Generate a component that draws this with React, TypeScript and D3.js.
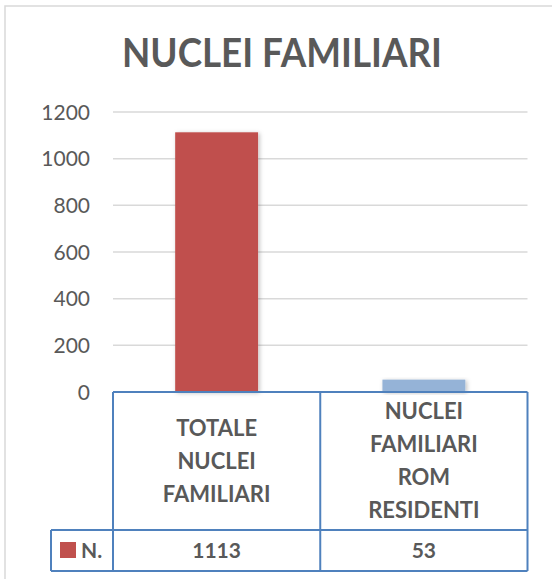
import * as d3 from 'd3'
import { useRef, useEffect } from 'react'

const categories = [
  ['TOTALE', 'NUCLEI', 'FAMILIARI'],
  ['NUCLEI', 'FAMILIARI', 'ROM', 'RESIDENTI'],
]
const values = [1113, 53]
const valueLabels = ['1113', '53']
const barColors = ['#C0504D', '#95B3D7']
const yTicks = [0, 200, 400, 600, 800, 1000, 1200]
const seriesName = 'N.'
const title = 'NUCLEI FAMILIARI'

export default function App() {
  const svgRef = useRef<SVGSVGElement>(null)

  useEffect(() => {
    const svg = d3.select(svgRef.current)
    svg.selectAll('*').remove()
    const font = 'Lato, "Open Sans", sans-serif'
    const textColor = '#595959'
    const tableColor = '#4F81BD'

    // outer frame
    svg
      .append('rect')
      .attr('x', 5)
      .attr('y', 6)
      .attr('width', 600)
      .attr('height', 600)
      .attr('fill', '#fff')
      .attr('stroke', '#d9d9d9')
      .attr('stroke-width', 1.5)

    const defs = svg.append('defs')
    const f = defs
      .append('filter')
      .attr('id', 'shadow')
      .attr('x', '-20%')
      .attr('y', '-20%')
      .attr('width', '140%')
      .attr('height', '140%')
    f.append('feDropShadow')
      .attr('dx', 1.5)
      .attr('dy', 1)
      .attr('stdDeviation', 2)
      .attr('flood-color', '#000')
      .attr('flood-opacity', 0.25)

    svg
      .append('text')
      .attr('x', 282)
      .attr('y', 67)
      .attr('text-anchor', 'middle')
      .attr('font-family', font)
      .attr('font-weight', 'bold')
      .attr('font-size', 41)
      .attr('textLength', 320)
      .attr('lengthAdjust', 'spacingAndGlyphs')
      .attr('fill', textColor)
      .text(title)

    const plotLeft = 113
    const plotRight = 527.5
    const y = d3.scaleLinear().domain([0, 1200]).range([392, 112])
    const x = d3
      .scaleBand<number>()
      .domain(d3.range(values.length))
      .range([plotLeft, plotRight])
      .paddingInner(0)
      .paddingOuter(0)

    // gridlines
    svg
      .append('g')
      .selectAll('line')
      .data(yTicks.filter((t) => t > 0))
      .join('line')
      .attr('x1', plotLeft)
      .attr('x2', plotRight)
      .attr('y1', (d) => y(d))
      .attr('y2', (d) => y(d))
      .attr('stroke', '#d9d9d9')
      .attr('stroke-width', 1.5)

    // y tick labels
    svg
      .append('g')
      .selectAll('text')
      .data(yTicks)
      .join('text')
      .attr('x', 90)
      .attr('y', (d) => y(d))
      .attr('dy', '0.36em')
      .attr('text-anchor', 'end')
      .attr('font-family', font)
      .attr('font-size', 21)
      .attr('fill', textColor)
      .text((d) => d)

    // bars
    const bw = x.bandwidth() * 0.4
    svg
      .append('g')
      .selectAll('rect')
      .data(values)
      .join('rect')
      .attr('x', (_, i) => x(i)! + (x.bandwidth() - bw) / 2)
      .attr('y', (d) => y(d))
      .attr('width', bw)
      .attr('height', (d) => y(0) - y(d))
      .attr('fill', (_, i) => barColors[i])
      .attr('filter', 'url(#shadow)')

    // data table
    const tTop = 392
    const tMid = 530
    const tBottom = 571
    const legLeft = 51
    const tbl = svg.append('g').attr('fill', 'none').attr('stroke', tableColor).attr('stroke-width', 2)
    tbl.append('line').attr('x1', plotLeft).attr('x2', plotRight).attr('y1', tTop).attr('y2', tTop)
    tbl.append('line').attr('x1', legLeft).attr('x2', plotRight).attr('y1', tMid).attr('y2', tMid)
    tbl.append('line').attr('x1', legLeft).attr('x2', plotRight).attr('y1', tBottom).attr('y2', tBottom)
    tbl.append('line').attr('x1', legLeft).attr('x2', legLeft).attr('y1', tMid).attr('y2', tBottom)
    const verts = [plotLeft, ...d3.range(values.length).map((i) => x(i)! + x.bandwidth())]
    tbl
      .selectAll('line.v')
      .data(verts)
      .join('line')
      .attr('class', 'v')
      .attr('x1', (d) => d)
      .attr('x2', (d) => d)
      .attr('y1', tTop)
      .attr('y2', tBottom)

    // category labels
    const lineH = 33
    categories.forEach((lines, i) => {
      const cx = x(i)! + x.bandwidth() / 2
      const cy = (tTop + tMid) / 2
      const start = cy - ((lines.length - 1) * lineH) / 2
      svg
        .append('g')
        .selectAll('text')
        .data(lines)
        .join('text')
        .attr('x', cx)
        .attr('y', (_, j) => start + j * lineH)
        .attr('dy', '0.36em')
        .attr('text-anchor', 'middle')
        .attr('font-family', font)
        .attr('font-weight', 'bold')
        .attr('font-size', 22)
        .attr('fill', textColor)
        .text((d) => d)
    })

    // values row
    svg
      .append('g')
      .selectAll('text')
      .data(valueLabels)
      .join('text')
      .attr('x', (_, i) => x(i)! + x.bandwidth() / 2)
      .attr('y', (tMid + tBottom) / 2)
      .attr('dy', '0.36em')
      .attr('text-anchor', 'middle')
      .attr('font-family', font)
      .attr('font-weight', 'bold')
      .attr('font-size', 21)
      .attr('fill', textColor)
      .text((d) => d)

    // legend key
    svg
      .append('rect')
      .attr('x', 60)
      .attr('y', 542)
      .attr('width', 16)
      .attr('height', 16)
      .attr('fill', barColors[0])
    svg
      .append('text')
      .attr('x', 81)
      .attr('y', (tMid + tBottom) / 2)
      .attr('dy', '0.36em')
      .attr('font-family', font)
      .attr('font-weight', 'bold')
      .attr('font-size', 21)
      .attr('fill', textColor)
      .text(seriesName)
  }, [])

  return (
    <svg
      ref={svgRef}
      width={552}
      height={579}
      style={{ position: 'absolute', left: 0, top: 0, background: '#fff' }}
    />
  )
}
